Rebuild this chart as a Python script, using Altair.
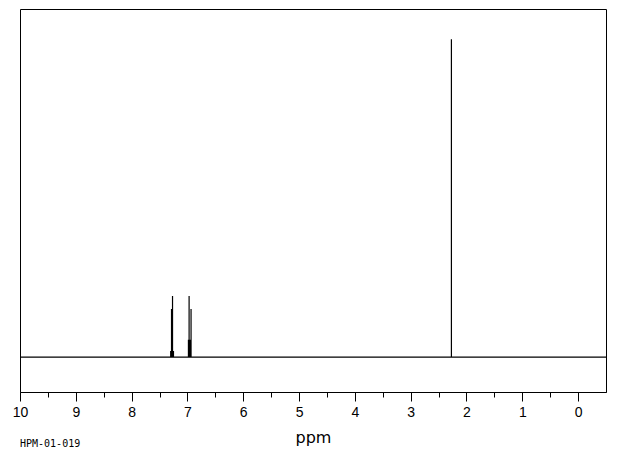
import altair as alt
import pandas as pd

# Chemical shifts (ppm) and relative intensities
peak_ppm = [7.300, 7.294, 7.285, 7.267, 7.258, 7.250, 6.982, 6.970, 6.955, 6.935, 2.270]
peak_height = [0.019, 0.019, 0.151, 0.192, 0.019, 0.019, 0.054, 0.192, 0.054, 0.151, 1.0]
x_start, x_end = 10.0, -0.5
tick_values = [i * 0.5 for i in range(0, 21)]
sample_id = "HPM-01-019"

rows = [(x_start, 0.0)]
for p, h in sorted(zip(peak_ppm, peak_height), key=lambda t: -t[0]):
    rows += [(p, 0.0), (p, h), (p, 0.0)]
rows.append((x_end, 0.0))
df = pd.DataFrame({"ppm": [r[0] for r in rows], "intensity": [r[1] for r in rows], "idx": list(range(len(rows)))})

xscale = alt.Scale(domain=[x_end, x_start], reverse=True, nice=False, zero=False)
yscale = alt.Scale(domain=[-0.110, 1.095], nice=False, zero=False)

line = alt.Chart(df).mark_line(color="black", strokeWidth=1.2, clip=True).encode(
    x=alt.X("ppm:Q", scale=xscale, axis=alt.Axis(
        values=tick_values,
        labelExpr="datum.value % 1 === 0 ? format(datum.value, 'd') : ''",
        tickSize={"condition": {"test": "datum.value % 1 === 0", "value": 9}, "value": 5},
        grid=False, title="ppm", labelFlush=False, labelOverlap=False, labelBound=False,
        labelFont="Liberation Sans", labelFontSize=14, labelColor="black", labelPadding=4,
        titleFont="DejaVu Sans", titleFontSize=16, titleFontWeight="normal", titleColor="black",
        titlePadding=10, domainColor="black", tickColor="black", domainWidth=1, tickWidth=1)),
    y=alt.Y("intensity:Q", scale=yscale, axis=None),
    order="idx:Q",
)

label_df = pd.DataFrame({"label": [sample_id]})
note = alt.Chart(label_df).mark_text(
    align="left", baseline="middle", font="DejaVu Sans Mono", fontSize=10, color="black"
).encode(x=alt.value(0), y=alt.value(435), text="label:N")

chart = alt.layer(line, note).properties(
    width=586, height=383,
    autosize="none",
    padding={"left": 12, "top": 1, "right": 6, "bottom": 56},
).configure_view(stroke="black", strokeWidth=1)

chart.save("out.html", embed_options={"renderer": "svg", "actions": False})
